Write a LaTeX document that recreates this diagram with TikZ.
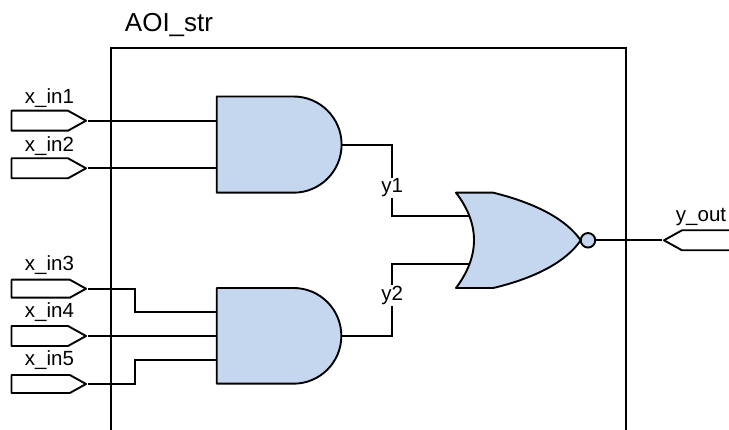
\documentclass[tikz,border=0pt]{standalone}
\usepackage{fontspec}
\setmainfont{Liberation Sans}
\usetikzlibrary{shapes.symbols}

\begin{document}
\begin{tikzpicture}[x=1pt,y=-1pt,line width=1.9pt,font=\fontsize{20.5}{24}\selectfont]
  % Styles
  \tikzstyle{inport}=[draw,signal,signal to=east,signal from=nowhere,signal pointer angle=58,anchor=east,minimum width=74.5pt,minimum height=20pt,inner sep=0pt,line join=round]
  \tikzstyle{outport}=[draw,signal,signal to=west,signal from=nowhere,signal pointer angle=58,anchor=west,minimum width=80pt,minimum height=20pt,inner sep=0pt,line join=round]
  \tikzstyle{txt}=[anchor=base west,inner sep=0pt]
  \tikzstyle{wirelbl}=[anchor=base,inner sep=1pt,fill=white]
  \tikzstyle{gate}=[draw,fill=gatefill,line join=round]
  \definecolor{gatefill}{RGB}{197,215,238}

  \useasboundingbox (0,0) rectangle (729,430);

  % Block outline, open at the bottom
  \draw[line width=2.2pt] (110.7,430) -- (110.7,48) -- (626,48) -- (626,430);
  \node[txt,font=\fontsize{26}{30}\selectfont] (title) at (124,31.7) {AOI\_str};

  % Ports
  \node[inport] (x1) at (88,120.7) {};
  \node[inport] (x2) at (88,168.3) {};
  \node[inport,minimum height=18pt] (x3) at (88,288.7) {};
  \node[inport] (x4) at (88,336) {};
  \node[inport,minimum height=18pt] (x5) at (88,384) {};
  \node[outport] (yout) at (662,240.3) {};

  % Gate anchors
  \coordinate (and1a) at (216.7,120.7);
  \coordinate (and1b) at (216.7,168.3);
  \coordinate (and1y) at (341.7,144.6);
  \coordinate (and2a) at (216.7,311.7);
  \coordinate (and2b) at (216.7,336);
  \coordinate (and2c) at (216.7,359.7);
  \coordinate (and2y) at (341.7,336);
  \coordinate (nora) at (474,216);
  \coordinate (norb) at (474,264);
  \coordinate (j3) at (135,288.7);
  \coordinate (j5) at (135,384);

  % Wires
  \draw (x1.east) -- (and1a);
  \draw (x2.east) -- (and1b);
  \draw (x3.east) -- (j3) |- (and2a);
  \draw (x4.east) -- (and2b);
  \draw (x5.east) -- (j5) |- (and2c);
  \draw (and1y) -| (392.3,180) |- (nora);
  \draw (and2y) -| (392.3,290) |- (norb);

  % Gates
  \draw[gate] (216.7,96.5) -- (293.5,96.5) arc[start angle=-90,end angle=90,radius=48.1] -- (216.7,192.7) -- cycle;
  \draw[gate] (216.7,288) -- (293.5,288) arc[start angle=-90,end angle=90,radius=47.85] -- (216.7,383.7) -- cycle;
  \draw[gate] (456,192.7) -- (493.3,192.7) .. controls (535,203) and (566,219) .. (580.7,240.3)
    .. controls (566,262) and (535,278) .. (493.3,288) -- (456,288)
    .. controls (480,256) and (480,224) .. (456,192.7) -- cycle;
  \node[draw,circle,fill=gatefill,minimum size=14.5pt,inner sep=0pt] (bub) at (588,240.3) {};
  \draw (bub.east) -- (yout.west);

  % Labels
  \node[txt] (lx1) at (24,103.3) {x\_in1};
  \node[txt] (lx2) at (24,151.7) {x\_in2};
  \node[txt] (lx3) at (24,271) {x\_in3};
  \node[txt] (lx4) at (24,317.7) {x\_in4};
  \node[txt] (lx5) at (24,366) {x\_in5};
  \node[txt] (lyout) at (675,222) {y\_out};
  \node[wirelbl] (ly1) at (392.3,193) {y1};
  \node[wirelbl] (ly2) at (392.3,300.7) {y2};
\end{tikzpicture}
\end{document}
